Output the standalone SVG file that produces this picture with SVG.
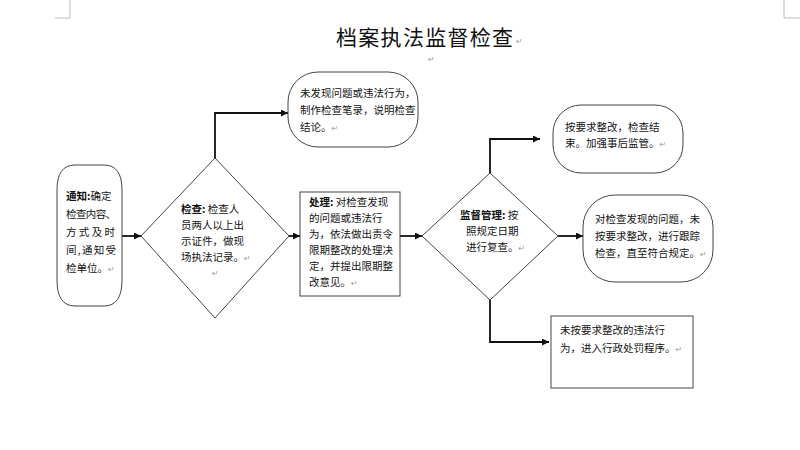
<svg xmlns="http://www.w3.org/2000/svg" width="800" height="450" viewBox="0 0 800 450">
<defs>
<marker id="ah" viewBox="0 0 10 10" refX="10" refY="5" markerWidth="7" markerHeight="7" markerUnits="userSpaceOnUse" orient="auto">
<path d="M0,0 L10,5 L0,10 z" fill="#111"/>
</marker>
<style>
.shape{fill:#fff;stroke:#444;stroke-width:1}
.conn{fill:none;stroke:#111;stroke-width:1.8}
.t{font-family:"Noto Sans CJK SC","Noto Sans",sans-serif;font-size:10.5px;fill:#111}
.b{font-weight:bold}
.rm{font-family:"DejaVu Sans",sans-serif;font-size:8px;fill:#999}
.title{font-family:"Noto Sans CJK SC","Noto Sans",sans-serif;font-size:21px;letter-spacing:1.3px;fill:#111}
.crop{fill:none;stroke:#bbb;stroke-width:1}
</style>
</defs>
<rect width="800" height="450" fill="#fff"/>
<path class="crop" d="M55,18 H70 V0"/>
<path class="crop" d="M800,18 H784 V0"/>
<g id="title">
<text class="title" x="336" y="45">档案执法监督检查</text>
<text class="rm" x="516" y="44">↵</text>
<text class="rm" x="428" y="62">↵</text>
</g>
<g id="connectors">
<path class="conn" d="M122,236 H141" marker-end="url(#ah)"/>
<path class="conn" d="M215,158 V113 H288" marker-end="url(#ah)"/>
<path class="conn" d="M289,236 H300" marker-end="url(#ah)"/>
<path class="conn" d="M400,236 H422" marker-end="url(#ah)"/>
<path class="conn" d="M490,173 V139 H540" marker-end="url(#ah)"/>
<path class="conn" d="M558,236 H583" marker-end="url(#ah)"/>
<path class="conn" d="M490,300 V342 H549" marker-end="url(#ah)"/>
</g>
<g id="notify">
<path class="shape" d="M75,165 H104 Q122,165 122,190 V280 Q122,306 104,306 H75 Q57,306 57,280 V190 Q57,165 75,165 Z"/>
<text class="t" x="66" y="200"><tspan class="b">通知:</tspan>确定</text>
<text class="t" x="66" y="218" textLength="50">检查内容、</text>
<text class="t" x="66" y="236" textLength="49" lengthAdjust="spacing">方式及时</text>
<text class="t" x="66" y="254" textLength="50">间,通知受</text>
<text class="t" x="66" y="272">检单位。<tspan class="rm">↵</tspan></text>
</g>
<g id="inspect">
<polygon class="shape" points="215,158 289,236 215,318 141,236"/>
<text class="t" x="181" y="213"><tspan class="b">检查:</tspan> 检查人</text>
<text class="t" x="181" y="229">员两人以上出</text>
<text class="t" x="181" y="245">示证件，做现</text>
<text class="t" x="181" y="261">场执法记录。<tspan class="rm">↵</tspan></text>
<text class="rm" x="212" y="276">↵</text>
</g>
<g id="nofinding">
<rect class="shape" x="288" y="72" width="130" height="75" rx="30" ry="30"/>
<text class="t" x="300" y="97">未发现问题或违法行为，</text>
<text class="t" x="300" y="114">制作检查笔录，说明检查</text>
<text class="t" x="300" y="131">结论。<tspan class="rm">↵</tspan></text>
</g>
<g id="handle">
<rect class="shape" x="300" y="192" width="100" height="104"/>
<text class="t" x="309" y="206"><tspan class="b">处理:</tspan> 对检查发现</text>
<text class="t" x="309" y="222">的问题或违法行</text>
<text class="t" x="309" y="238">为，依法做出责令</text>
<text class="t" x="309" y="254">限期整改的处理决</text>
<text class="t" x="309" y="270">定，并提出限期整</text>
<text class="t" x="309" y="286">改意见。<tspan class="rm">↵</tspan></text>
</g>
<g id="supervise">
<polygon class="shape" points="490,173 558,236 490,300 422,236"/>
<text class="t" x="460" y="219"><tspan class="b">监督管理:</tspan> 按</text>
<text class="t" x="466" y="235">照规定日期</text>
<text class="t" x="466" y="251">进行复查。<tspan class="rm">↵</tspan></text>
</g>
<g id="done">
<rect class="shape" x="553" y="105" width="130" height="68" rx="28" ry="28"/>
<text class="t" x="565" y="131">按要求整改，检查结</text>
<text class="t" x="565" y="147">束。加强事后监管。<tspan class="rm">↵</tspan></text>
</g>
<g id="followup">
<rect class="shape" x="583" y="195" width="130" height="87" rx="32" ry="32"/>
<text class="t" x="595" y="223">对检查发现的问题，未</text>
<text class="t" x="595" y="240">按要求整改，进行跟踪</text>
<text class="t" x="595" y="257">检查，直至符合规定。<tspan class="rm">↵</tspan></text>
</g>
<g id="penalty">
<rect class="shape" x="551" y="316" width="142" height="72"/>
<text class="t" x="560" y="334">未按要求整改的违法行</text>
<text class="t" x="560" y="352">为，进入行政处罚程序。<tspan class="rm">↵</tspan></text>
</g>
</svg>
